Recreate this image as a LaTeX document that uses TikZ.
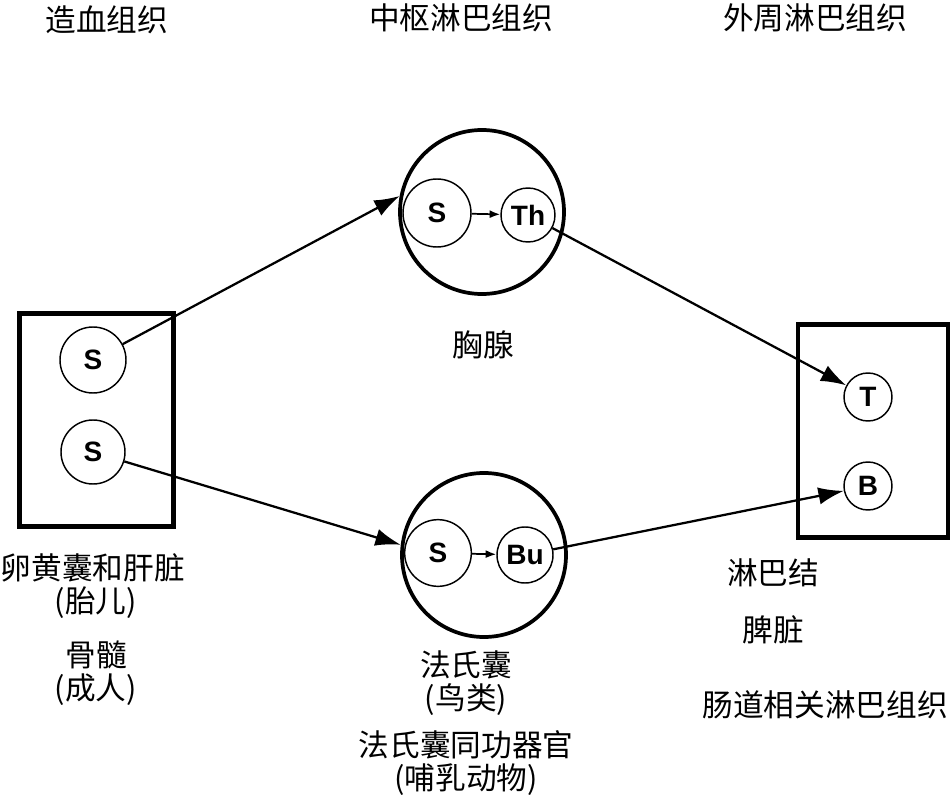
\documentclass[tikz,border=0pt]{standalone}
\usepackage{fontspec}
\setmainfont{Liberation Sans}
\newfontfamily\cjk{Noto Sans CJK SC}[Scale=1]
\usetikzlibrary{arrows.meta}
\tikzset{
  x=0.75pt, y=-0.75pt,
  cell/.style={circle, draw, line width=1.1pt, inner sep=0pt, font=\bfseries\fontsize{21}{21}\selectfont},
  organ/.style={circle, draw, line width=2.8pt, inner sep=0pt, minimum size=123pt},
  tissue/.style={draw, line width=3.6pt, inner sep=0pt},
  lbl/.style={font=\cjk\fontsize{23}{25}\selectfont, inner sep=0pt},
  bigarrow/.style={line width=1.7pt, -{Latex[length=19pt,width=13pt]}},
  smallarrow/.style={line width=1.3pt, -{Latex[length=8pt,width=6pt]}}
}
\begin{document}
\begin{tikzpicture}
\useasboundingbox (0,0) rectangle (951,799);
% headers
\node[lbl] (h1) at (107,20) {造血组织};
\node[lbl] (h2) at (461,18) {中枢淋巴组织};
\node[lbl] (h3) at (815,18) {外周淋巴组织};
% left box
\node[tissue, minimum width=115pt, minimum height=160pt] (lbox) at (96.5,420) {};
\node[cell, minimum size=49.5pt] (s1) at (93,360) {S};
\node[cell, minimum size=48pt] (s2) at (93,452) {S};
% thymus
\node[organ] (thy) at (482,212) {};
\node[cell, minimum size=51pt] (ts) at (437,213) {S};
\node[cell, minimum size=40.5pt] (th) at (528,215) {Th};
% bursa
\node[organ] (bur) at (484,555) {};
\node[cell, minimum size=50pt] (bs) at (438,553) {S};
\node[cell, minimum size=42pt] (bu) at (525,555) {Bu};
% right box
\node[tissue, minimum width=112.5pt, minimum height=160pt] (rbox) at (873,431) {};
\node[cell, minimum size=36pt] (t) at (868,397) {T};
\node[cell, minimum size=36pt] (b) at (868,486) {B};
% arrows
\draw[bigarrow] (s1) -- (thy.169);
\draw[bigarrow] (s2) -- (bur.173);
\draw[bigarrow] (th) -- (t);
\draw[bigarrow] (bu) -- (b);
\draw[smallarrow] (ts) -- (th);
\draw[smallarrow] (bs) -- (bu);
% labels
\node[lbl] (l1) at (483,345) {胸腺};
\node[lbl] (l2) at (93,568) {卵黄囊和肝脏};
\node[lbl] (l3) at (96,603) {(胎儿)};
\node[lbl] (l4) at (96,655) {骨髓};
\node[lbl] (l5) at (96,690) {(成人)};
\node[lbl] (l6) at (466,665) {法氏囊};
\node[lbl] (l7) at (466,700) {(鸟类)};
\node[lbl] (l8) at (466,745) {法氏囊同功器官};
\node[lbl] (l9) at (466,780) {(哺乳动物)};
\node[lbl] (l10) at (773,573) {淋巴结};
\node[lbl] (l11) at (773,630) {脾脏};
\node[lbl] (l12) at (825,705) {肠道相关淋巴组织};
\end{tikzpicture}
\end{document}
